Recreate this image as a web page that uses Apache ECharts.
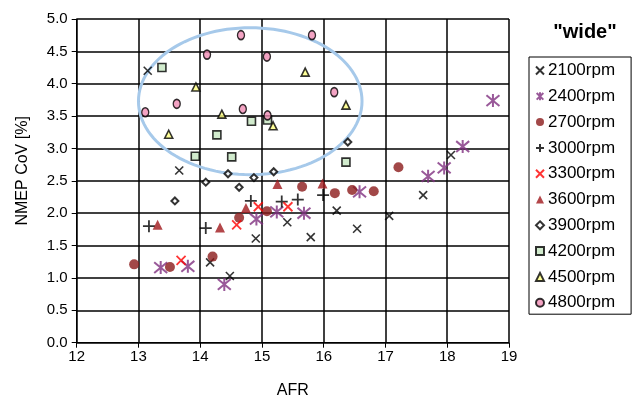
<!DOCTYPE html>
<html>
<head>
<meta charset="utf-8">
<script src="https://cdn.jsdelivr.net/npm/echarts@6/dist/echarts.min.js"></script>
<style>html,body{margin:0;padding:0;background:#fff}#c{width:636px;height:401px}</style>
</head>
<body>
<div id="c"></div>
<script>
// ---- data (AFR, NMEP CoV %) ----
const seriesNames = ['2100rpm','2400rpm','2700rpm','3000rpm','3300rpm','3600rpm','3900rpm','4200rpm','4500rpm','4800rpm'];
const s2100 = [[13.15,4.20],[13.66,2.66],[14.16,1.24],[14.48,1.03],[14.90,1.61],[15.41,1.86],[15.79,1.63],[16.21,2.04],[16.54,1.76],[17.06,1.96],[17.61,2.28],[18.06,2.90]];
const s2400 = [[13.36,1.16],[13.80,1.18],[14.39,0.90],[14.91,1.91],[15.24,2.02],[15.68,2.00],[16.58,2.33],[17.69,2.57],[17.95,2.70],[18.25,3.03],[18.74,3.74]];
const s2700 = [[12.93,1.21],[13.51,1.17],[14.20,1.33],[14.63,1.93],[15.08,2.03],[15.65,2.41],[16.18,2.31],[16.46,2.36],[16.81,2.34],[17.21,2.71]];
const s3000 = [[13.17,1.80],[14.09,1.77],[14.82,2.19],[15.32,2.18],[15.58,2.21],[15.99,2.28]];
const s3300 = [[13.69,1.27],[14.59,1.82],[14.94,2.10],[15.42,2.10]];
const s3600 = [[13.31,1.82],[14.32,1.78],[14.74,2.08],[15.25,2.45],[15.98,2.46]];
const s3900 = [[13.59,2.19],[14.09,2.48],[14.45,2.61],[14.63,2.40],[14.87,2.55],[15.19,2.64],[16.39,3.10]];
const s4200 = [[13.38,4.25],[13.92,2.88],[14.27,3.21],[14.51,2.87],[14.83,3.42],[15.09,3.44],[16.36,2.79]];
const s4500 = [[13.49,3.22],[13.93,3.95],[14.35,3.53],[15.18,3.35],[15.70,4.18],[16.36,3.67]];
const s4800 = [[13.11,3.56],[13.62,3.69],[14.11,4.45],[14.66,4.75],[14.69,3.61],[15.08,4.42],[15.09,3.51],[15.81,4.75],[16.17,3.87]];
// annotation ellipse: centre AFR, centre CoV, radius AFR, radius CoV
const ellipseAnnotation = [14.81, 3.73, 1.81, 1.135];
const xTicks = [12,13,14,15,16,17,18,19];
const yTicks = [0,0.5,1,1.5,2,2.5,3,3.5,4,4.5,5];

const FONT = '"Liberation Sans", Arial, sans-serif';
const X_PATH = 'path://M0,0L10,10M10,0L0,10';
const STAR_PATH = 'path://M0,0L10,10M10,0L0,10M5,-1L5,11';
const PLUS_PATH = 'path://M5,0L5,10M0,5L10,5';

const styles = [
  {data:s2100, symbol:X_PATH, size:8, itemStyle:{color:'#000', borderColor:'#000', borderWidth:1.6}},
  {data:s2400, symbol:STAR_PATH, size:13, itemStyle:{color:'#80307f', borderColor:'#80307f', borderWidth:2}},
  {data:s2700, symbol:'circle', size:10, itemStyle:{color:'#8b1a1a'}},
  {data:s3000, symbol:PLUS_PATH, size:12, itemStyle:{color:'#000', borderColor:'#000', borderWidth:1.8}},
  {data:s3300, symbol:X_PATH, size:9, itemStyle:{color:'#ff0000', borderColor:'#ff0000', borderWidth:1.8}},
  {data:s3600, symbol:'triangle', size:10, itemStyle:{color:'#a0181c'}},
  {data:s3900, symbol:'diamond', size:7, itemStyle:{color:'#fff', borderColor:'#000', borderWidth:2}},
  {data:s4200, symbol:'rect', size:8, itemStyle:{color:'#c6e6c0', borderColor:'#000', borderWidth:1.6}},
  {data:s4500, symbol:'triangle', size:8, itemStyle:{color:'#ffff80', borderColor:'#000', borderWidth:1.6}},
  {data:s4800, symbol:'circle', size:[7,9], itemStyle:{color:'#f08cb4', borderColor:'#000', borderWidth:1.5}}
];

const series = [{
  type:'custom', name:'ellipse', silent:true, clip:false, z:1,
  data:[ellipseAnnotation],
  renderItem:function(params, api){
    const c = api.coord([api.value(0), api.value(1)]);
    const s = api.size([api.value(2), api.value(3)]);
    const pts = [];
    for (let i = 0; i <= 120; i++) {
      const t = i / 120 * Math.PI * 2;
      pts.push([c[0] + s[0]*Math.cos(t), c[1] + s[1]*Math.sin(t)]);
    }
    return {type:'polyline', shape:{points:pts}, style:{stroke:'#a6c9ea', lineWidth:3, fill:null}};
  }
}];
styles.forEach((st, i) => {
  series.push({
    type:'scatter', name:seriesNames[i], data:st.data, symbol:st.symbol, symbolSize:st.size,
    itemStyle:st.itemStyle, z:3, emphasis:{disabled:true}
  });
});

const chart = echarts.init(document.getElementById('c'), null, {renderer:'canvas'});
chart.setOption({
  animation:false,
  backgroundColor:'#fff',
  title:{text:'"wide"', left:580, top:17, textAlign:'center',
    textStyle:{fontFamily:FONT, fontWeight:'bold', fontSize:20, color:'#000'}},
  grid:{left:76.7, right:127, top:19, bottom:58.3, containLabel:false, outerBoundsMode:'none'},
  legend:{
    orient:'vertical', left:529, top:57, data:seriesNames,
    itemWidth:8, itemHeight:8, itemGap:8.8,
    padding:[5,16,3,6], borderColor:'#000', borderWidth:1, backgroundColor:'#fff',
    textStyle:{fontFamily:FONT, fontSize:17, color:'#000', padding:[0,0,0,-1]},
    selectedMode:false
  },
  xAxis:{
    type:'value', min:12, max:19, interval:1,
    name:'AFR', nameLocation:'middle', nameGap:40,
    nameTextStyle:{fontFamily:FONT, fontSize:16, color:'#000'},
    axisLine:{show:true, lineStyle:{color:'#000', width:1}},
    axisTick:{show:true, length:5, lineStyle:{color:'#000'}},
    axisLabel:{fontFamily:FONT, fontSize:15, color:'#000', margin:7},
    splitLine:{show:true, lineStyle:{color:'#000', width:1.5}}
  },
  yAxis:{
    type:'value', min:0, max:5, interval:0.5,
    name:'NMEP CoV [%]', nameLocation:'middle', nameGap:46,
    nameTextStyle:{fontFamily:FONT, fontSize:16, color:'#000', padding:[0,0,0,20]},
    axisLine:{show:true, lineStyle:{color:'#000', width:1}},
    axisTick:{show:true, length:5, lineStyle:{color:'#000'}},
    axisLabel:{fontFamily:FONT, fontSize:15, color:'#000', margin:9, formatter:v=>v.toFixed(1)},
    splitLine:{show:true, lineStyle:{color:'#000', width:1.5}}
  },
  series:series
});
</script>
</body>
</html>
